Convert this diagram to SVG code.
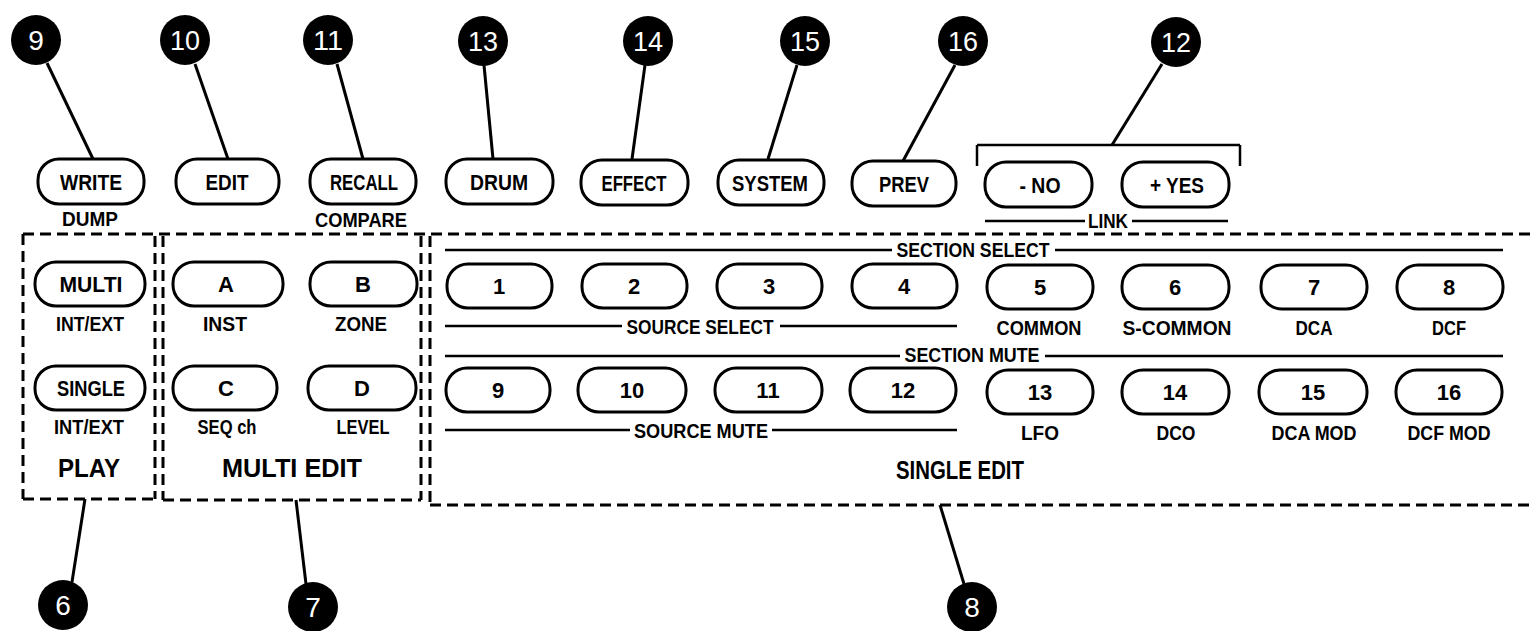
<svg xmlns="http://www.w3.org/2000/svg" width="1533" height="631" viewBox="0 0 1533 631">
<style>
.bg{fill:#fff}
.btn{fill:#fff;stroke:#000;stroke-width:3}
.t{font-family:"Liberation Sans Narrow","Liberation Sans",Arial,sans-serif;font-weight:bold;fill:#000;text-anchor:middle}
.bt{font-size:22px}
.lb{font-size:20px}
.big{font-size:26px}
.cc{fill:#000}
.ct{font-family:"Liberation Sans Narrow","Liberation Sans",Arial,sans-serif;font-size:28px;fill:#fff;text-anchor:middle}
.ld{stroke:#000;stroke-width:3;fill:none}
.ln{stroke:#000;stroke-width:2.5;fill:none}
.ds{stroke:#000;stroke-width:3;fill:none;stroke-dasharray:11 6}
</style>
<rect class="bg" x="0" y="0" width="1533" height="631"/>

<!-- dashed panel boxes -->
<g id="panel-frames">
  <line class="ds" x1="23" y1="234" x2="1533" y2="234"/>
  <line class="ds" x1="23" y1="234" x2="23" y2="499"/>
  <line class="ds" x1="23" y1="499" x2="155" y2="499"/>
  <line class="ds" x1="163" y1="500" x2="421" y2="500"/>
  <line class="ds" x1="430" y1="505" x2="1533" y2="505"/>
  <line class="ds" x1="155" y1="236" x2="155" y2="499"/>
  <line class="ds" x1="163" y1="236" x2="163" y2="500"/>
  <line class="ds" x1="421" y1="236" x2="421" y2="500"/>
  <line class="ds" x1="430" y1="236" x2="430" y2="505"/>
</g>

<!-- group rules -->
<g id="rules">
  <line class="ln" x1="977" y1="166" x2="977" y2="145"/>
  <line class="ln" x1="977" y1="145" x2="1240" y2="145"/>
  <line class="ln" x1="1240" y1="145" x2="1240" y2="166"/>
  <line class="ln" x1="985" y1="221" x2="1085" y2="221"/>
  <line class="ln" x1="1132" y1="221" x2="1228" y2="221"/>
  <line class="ln" x1="445" y1="250" x2="892" y2="250"/>
  <line class="ln" x1="1055" y1="250" x2="1503" y2="250"/>
  <line class="ln" x1="445" y1="326" x2="622" y2="326"/>
  <line class="ln" x1="780" y1="326" x2="957" y2="326"/>
  <line class="ln" x1="445" y1="356" x2="900" y2="356"/>
  <line class="ln" x1="1045" y1="356" x2="1503" y2="356"/>
  <line class="ln" x1="445" y1="430" x2="630" y2="430"/>
  <line class="ln" x1="772" y1="430" x2="957" y2="430"/>
</g>

<!-- connectors -->
<g id="connectors">
  <line class="ld" x1="47" y1="63" x2="93" y2="159"/>
  <line class="ld" x1="195" y1="64" x2="228" y2="159"/>
  <line class="ld" x1="337" y1="64" x2="363" y2="159"/>
  <line class="ld" x1="484" y1="65" x2="493" y2="159"/>
  <line class="ld" x1="645" y1="65" x2="632" y2="159"/>
  <line class="ld" x1="797" y1="65" x2="768" y2="159"/>
  <line class="ld" x1="955" y1="65" x2="903" y2="161"/>
  <line class="ld" x1="1162" y1="64" x2="1112" y2="145"/>
  <line class="ld" x1="72" y1="582" x2="85" y2="499"/>
  <line class="ld" x1="306" y1="584" x2="296" y2="500"/>
  <line class="ld" x1="964" y1="584" x2="940" y2="505"/>
</g>

<!-- callouts -->
<g id="callout-9"><circle class="cc" cx="36" cy="40" r="25"/><text class="ct" x="36" y="50">9</text></g>
<g id="callout-10"><circle class="cc" cx="185" cy="40" r="25"/><text class="ct" x="185" y="50" textLength="30" lengthAdjust="spacingAndGlyphs">10</text></g>
<g id="callout-11"><circle class="cc" cx="328" cy="40" r="25"/><text class="ct" x="328" y="50" textLength="30" lengthAdjust="spacingAndGlyphs">11</text></g>
<g id="callout-13"><circle class="cc" cx="483" cy="41" r="25"/><text class="ct" x="483" y="51" textLength="30" lengthAdjust="spacingAndGlyphs">13</text></g>
<g id="callout-14"><circle class="cc" cx="648" cy="41" r="25"/><text class="ct" x="648" y="51" textLength="30" lengthAdjust="spacingAndGlyphs">14</text></g>
<g id="callout-15"><circle class="cc" cx="805" cy="41" r="25"/><text class="ct" x="805" y="51" textLength="30" lengthAdjust="spacingAndGlyphs">15</text></g>
<g id="callout-16"><circle class="cc" cx="963" cy="41" r="25"/><text class="ct" x="963" y="51" textLength="30" lengthAdjust="spacingAndGlyphs">16</text></g>
<g id="callout-12"><circle class="cc" cx="1176" cy="42" r="25"/><text class="ct" x="1176" y="52" textLength="30" lengthAdjust="spacingAndGlyphs">12</text></g>
<g id="callout-6"><circle class="cc" cx="63" cy="605" r="25"/><text class="ct" x="63" y="615">6</text></g>
<g id="callout-7"><circle class="cc" cx="313" cy="607" r="25"/><text class="ct" x="313" y="617">7</text></g>
<g id="callout-8"><circle class="cc" cx="972" cy="607" r="25"/><text class="ct" x="972" y="617">8</text></g>

<!-- top row buttons -->
<g id="btn-write"><rect class="btn" x="38" y="159" width="106" height="45" rx="21"/><text class="t bt" x="91" y="190" textLength="62" lengthAdjust="spacingAndGlyphs">WRITE</text><text class="t lb" x="90" y="226" textLength="56" lengthAdjust="spacingAndGlyphs">DUMP</text></g>
<g id="btn-edit"><rect class="btn" x="176" y="159" width="103" height="45" rx="21"/><text class="t bt" x="227" y="190" textLength="43" lengthAdjust="spacingAndGlyphs">EDIT</text></g>
<g id="btn-recall"><rect class="btn" x="310" y="159" width="106" height="45" rx="21"/><text class="t bt" x="364" y="190" textLength="68" lengthAdjust="spacingAndGlyphs">RECALL</text><text class="t lb" x="361" y="227" textLength="92" lengthAdjust="spacingAndGlyphs">COMPARE</text></g>
<g id="btn-drum"><rect class="btn" x="446" y="159" width="107" height="45" rx="21"/><text class="t bt" x="499" y="190" textLength="58" lengthAdjust="spacingAndGlyphs">DRUM</text></g>
<g id="btn-effect"><rect class="btn" x="581" y="160" width="107" height="45" rx="21"/><text class="t bt" x="634" y="191" textLength="65" lengthAdjust="spacingAndGlyphs">EFFECT</text></g>
<g id="btn-system"><rect class="btn" x="718" y="160" width="106" height="45" rx="21"/><text class="t bt" x="770" y="191" textLength="76" lengthAdjust="spacingAndGlyphs">SYSTEM</text></g>
<g id="btn-prev"><rect class="btn" x="852" y="161" width="104" height="45" rx="21"/><text class="t bt" x="904" y="192" textLength="50" lengthAdjust="spacingAndGlyphs">PREV</text></g>
<g id="btn-no"><rect class="btn" x="985" y="162" width="107" height="45" rx="21"/><text class="t bt" x="1040" y="193" textLength="41" lengthAdjust="spacingAndGlyphs">- NO</text></g>
<g id="btn-yes"><rect class="btn" x="1122" y="162" width="107" height="45" rx="21"/><text class="t bt" x="1177" y="193" textLength="54" lengthAdjust="spacingAndGlyphs">+ YES</text></g>
<g id="lbl-link"><text class="t lb" x="1108" y="228" textLength="40" lengthAdjust="spacingAndGlyphs">LINK</text></g>

<!-- PLAY -->
<g id="btn-multi"><rect class="btn" x="35" y="262" width="110" height="44" rx="21"/><text class="t bt" x="91" y="292" textLength="63" lengthAdjust="spacingAndGlyphs">MULTI</text><text class="t lb" x="90" y="331" textLength="68" lengthAdjust="spacingAndGlyphs">INT/EXT</text></g>
<g id="btn-single"><rect class="btn" x="35" y="366" width="110" height="44" rx="21"/><text class="t bt" x="91" y="396" textLength="68" lengthAdjust="spacingAndGlyphs">SINGLE</text><text class="t lb" x="89" y="434" textLength="70" lengthAdjust="spacingAndGlyphs">INT/EXT</text></g>
<g id="lbl-play"><text class="t big" x="89" y="477" textLength="62" lengthAdjust="spacingAndGlyphs">PLAY</text></g>

<!-- MULTI EDIT -->
<g id="btn-a"><rect class="btn" x="173" y="262" width="110" height="44" rx="21"/><text class="t bt" x="226" y="292">A</text><text class="t lb" x="225" y="331" textLength="44" lengthAdjust="spacingAndGlyphs">INST</text></g>
<g id="btn-b"><rect class="btn" x="310" y="262" width="107" height="44" rx="21"/><text class="t bt" x="363" y="292">B</text><text class="t lb" x="361" y="331" textLength="52" lengthAdjust="spacingAndGlyphs">ZONE</text></g>
<g id="btn-c"><rect class="btn" x="173" y="366" width="104" height="44" rx="21"/><text class="t bt" x="226" y="396">C</text><text class="t lb" x="227" y="434" textLength="59" lengthAdjust="spacingAndGlyphs">SEQ ch</text></g>
<g id="btn-d"><rect class="btn" x="308" y="366" width="108" height="44" rx="21"/><text class="t bt" x="362" y="396">D</text><text class="t lb" x="363" y="434" textLength="53" lengthAdjust="spacingAndGlyphs">LEVEL</text></g>
<g id="lbl-multi-edit"><text class="t big" x="292" y="477" textLength="140" lengthAdjust="spacingAndGlyphs">MULTI EDIT</text></g>

<!-- SINGLE EDIT row 1 -->
<g id="lbl-section-select"><text class="t lb" x="973" y="257" textLength="153" lengthAdjust="spacingAndGlyphs">SECTION SELECT</text></g>
<g id="btn-1"><rect class="btn" x="447" y="264" width="105" height="44" rx="21"/><text class="t bt" x="499" y="294">1</text></g>
<g id="btn-2"><rect class="btn" x="582" y="264" width="105" height="44" rx="21"/><text class="t bt" x="634" y="294">2</text></g>
<g id="btn-3"><rect class="btn" x="717" y="264" width="105" height="44" rx="21"/><text class="t bt" x="769" y="294">3</text></g>
<g id="btn-4"><rect class="btn" x="852" y="264" width="105" height="44" rx="21"/><text class="t bt" x="904" y="294">4</text></g>
<g id="btn-5"><rect class="btn" x="987" y="265" width="106" height="44" rx="21"/><text class="t bt" x="1040" y="295">5</text><text class="t lb" x="1039" y="335" textLength="85" lengthAdjust="spacingAndGlyphs">COMMON</text></g>
<g id="btn-6"><rect class="btn" x="1122" y="265" width="107" height="44" rx="21"/><text class="t bt" x="1175" y="295">6</text><text class="t lb" x="1177" y="335" textLength="109" lengthAdjust="spacingAndGlyphs">S-COMMON</text></g>
<g id="btn-7"><rect class="btn" x="1261" y="265" width="106" height="44" rx="21"/><text class="t bt" x="1314" y="295">7</text><text class="t lb" x="1314" y="335" textLength="37" lengthAdjust="spacingAndGlyphs">DCA</text></g>
<g id="btn-8"><rect class="btn" x="1397" y="265" width="106" height="44" rx="21"/><text class="t bt" x="1449" y="295">8</text><text class="t lb" x="1449" y="335" textLength="34" lengthAdjust="spacingAndGlyphs">DCF</text></g>
<g id="lbl-source-select"><text class="t lb" x="700" y="334" textLength="147" lengthAdjust="spacingAndGlyphs">SOURCE SELECT</text></g>

<!-- SINGLE EDIT row 2 -->
<g id="lbl-section-mute"><text class="t lb" x="972" y="362" textLength="135" lengthAdjust="spacingAndGlyphs">SECTION MUTE</text></g>
<g id="btn-9"><rect class="btn" x="446" y="368" width="104" height="44" rx="21"/><text class="t bt" x="498" y="398">9</text></g>
<g id="btn-10"><rect class="btn" x="578" y="368" width="108" height="44" rx="21"/><text class="t bt" x="632" y="398">10</text></g>
<g id="btn-11"><rect class="btn" x="715" y="368" width="107" height="44" rx="21"/><text class="t bt" x="768" y="398">11</text></g>
<g id="btn-12"><rect class="btn" x="850" y="368" width="106" height="44" rx="21"/><text class="t bt" x="903" y="398">12</text></g>
<g id="btn-13"><rect class="btn" x="987" y="370" width="106" height="44" rx="21"/><text class="t bt" x="1040" y="400">13</text><text class="t lb" x="1040" y="440" textLength="38" lengthAdjust="spacingAndGlyphs">LFO</text></g>
<g id="btn-14"><rect class="btn" x="1122" y="370" width="107" height="44" rx="21"/><text class="t bt" x="1175" y="400">14</text><text class="t lb" x="1176" y="440" textLength="39" lengthAdjust="spacingAndGlyphs">DCO</text></g>
<g id="btn-15"><rect class="btn" x="1259" y="370" width="108" height="44" rx="21"/><text class="t bt" x="1313" y="400">15</text><text class="t lb" x="1314" y="440" textLength="85" lengthAdjust="spacingAndGlyphs">DCA MOD</text></g>
<g id="btn-16"><rect class="btn" x="1396" y="370" width="106" height="44" rx="21"/><text class="t bt" x="1449" y="400">16</text><text class="t lb" x="1449" y="440" textLength="83" lengthAdjust="spacingAndGlyphs">DCF MOD</text></g>
<g id="lbl-source-mute"><text class="t lb" x="701" y="438" textLength="134" lengthAdjust="spacingAndGlyphs">SOURCE MUTE</text></g>
<g id="lbl-single-edit"><text class="t big" x="960" y="479" textLength="128" lengthAdjust="spacingAndGlyphs">SINGLE EDIT</text></g>
</svg>
